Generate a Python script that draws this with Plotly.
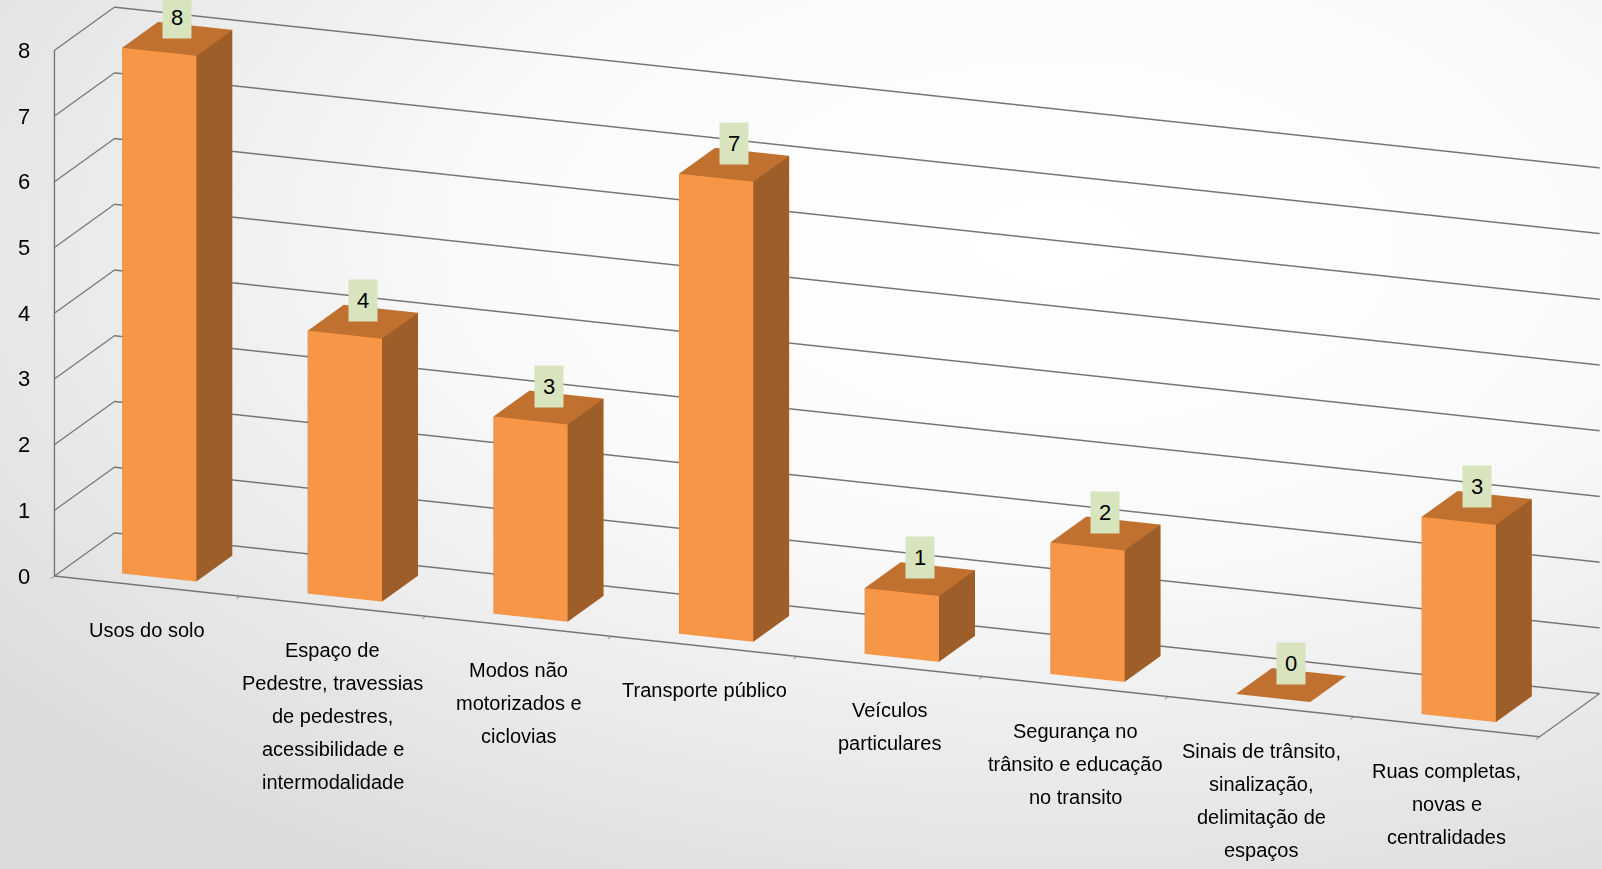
import base64
import plotly.graph_objects as go

# ---- data ----
categories = [
    "Usos do solo",
    "Espaço de<br>Pedestre, travessias<br>de pedestres,<br>acessibilidade e<br>intermodalidade",
    "Modos não<br>motorizados e<br>ciclovias",
    "Transporte público",
    "Veículos<br>particulares",
    "Segurança no<br>trânsito e educação<br>no transito",
    "Sinais de trânsito,<br>sinalização,<br>delimitação de<br>espaços",
    "Ruas completas,<br>novas e<br>centralidades",
]
values = [8, 4, 3, 7, 1, 2, 0, 3]
z_ticks = [0, 1, 2, 3, 4, 5, 6, 7, 8]

# ---- style ----
FRONT = "#F79646"
SIDE = "#9E5E29"
TOP = "#C0712F"
HALF_W = 0.2
Y0, Y1 = 0.2, 0.8
GRID = "#757575"

xs, ys, zs, ii, jj, kk, fc = [], [], [], [], [], [], []
for idx, v in enumerate(values):
    x0, x1 = idx - HALF_W, idx + HALF_W
    base = len(xs)
    pts = [(x0, Y0, 0), (x1, Y0, 0), (x1, Y1, 0), (x0, Y1, 0),
           (x0, Y0, v), (x1, Y0, v), (x1, Y1, v), (x0, Y1, v)]
    for p in pts:
        xs.append(p[0]); ys.append(p[1]); zs.append(p[2])
    faces = [
        ((0, 1, 5), FRONT), ((0, 5, 4), FRONT),
        ((1, 2, 6), SIDE), ((1, 6, 5), SIDE),
        ((4, 5, 6), TOP), ((4, 6, 7), TOP),
        ((0, 3, 7), SIDE), ((0, 7, 4), SIDE),
        ((3, 2, 6), FRONT), ((3, 6, 7), FRONT),
        ((0, 1, 2), TOP), ((0, 2, 3), TOP),
    ]
    for (a, b, c), col in faces:
        ii.append(base + a); jj.append(base + b); kk.append(base + c); fc.append(col)

mesh = go.Mesh3d(
    x=xs, y=ys, z=zs, i=ii, j=jj, k=kk, facecolor=fc,
    flatshading=True,
    lighting=dict(ambient=1.0, diffuse=0.0, specular=0.0, roughness=1.0, fresnel=0.0),
    hoverinfo="skip", showscale=False,
)

fig = go.Figure(mesh)

annotations = []
# value labels
for idx, v in enumerate(values):
    annotations.append(dict(
        x=idx, y=0.5, z=v, text=str(v), showarrow=False,
        bgcolor="#D7E4BD", borderpad=8, yanchor="bottom", yshift=0,
        font=dict(size=22, color="black", family="Liberation Sans, Arial"),
    ))
# category labels (one annotation per text line for Excel-like line spacing)
for idx, lab in enumerate(categories):
    for j, line in enumerate(lab.split("<br>")):
        annotations.append(dict(
            x=idx, y=0.0, z=0, text=line, showarrow=False,
            yanchor="middle", yshift=-(44 + 33 * j),
            font=dict(size=20, color="black", family="Liberation Sans, Arial"),
        ))
# value-axis labels
for t in z_ticks:
    annotations.append(dict(
        x=-0.5, y=0.0, z=t, text=str(t), showarrow=False,
        xanchor="right", yanchor="middle", xshift=-22,
        font=dict(size=22, color="black", family="Liberation Sans, Arial"),
    ))

axis_common = dict(showbackground=False, showspikes=False, title=dict(text=""),
                   linecolor=GRID, linewidth=3)

svg = ("<svg xmlns='http://www.w3.org/2000/svg' width='1602' height='869'>"
       "<defs><radialGradient id='g' cx='0.66' cy='0.28' r='0.85'>"
       "<stop offset='0' stop-color='#ffffff'/><stop offset='0.42' stop-color='#fafafa'/>"
       "<stop offset='1' stop-color='#dbdbdb'/></radialGradient></defs>"
       "<rect width='100%' height='100%' fill='url(#g)'/></svg>")
bg_src = "data:image/svg+xml;base64," + base64.b64encode(svg.encode()).decode()

fig.update_layout(
    width=1602, height=869,
    margin=dict(l=0, r=0, t=0, b=0),
    paper_bgcolor="white",
    showlegend=False,
    images=[dict(source=bg_src, xref="paper", yref="paper", x=0, y=1,
                 sizex=1, sizey=1, sizing="stretch", layer="below")],
    scene=dict(
        domain=dict(x=[0, 1], y=[0, 1]),
        bgcolor="rgba(0,0,0,0)",
        aspectmode="manual",
        aspectratio=dict(x=3.666, y=0.382, z=1.26),
        camera=dict(
            projection=dict(type="orthographic"),
            up=dict(x=0, y=0, z=1),
            center=dict(x=-0.0413, y=-0.0591, z=-0.1382),
            eye=dict(x=1.0003, y=-2.745, z=0.6988),
        ),
        xaxis=dict(axis_common, range=[-0.5, len(values) - 0.5], showgrid=False,
                   showticklabels=False, ticks="outside", ticklen=10, tickwidth=2,
                   tickcolor=GRID,
                   tickvals=[k - 0.5 for k in range(len(values) + 1)], zeroline=False),
        yaxis=dict(axis_common, range=[0, 1], showgrid=False, showticklabels=False,
                   ticks="", zeroline=False),
        zaxis=dict(axis_common, range=[0, 8], tickvals=z_ticks, showgrid=True,
                   gridcolor=GRID, gridwidth=3, ticks="", showticklabels=False,
                   zeroline=False),
        annotations=annotations,
    ),
)

fig.write_html("out.html",
               config={"displayModeBar": False},
               post_script="document.body.style.margin='0px';"
                           "document.documentElement.style.overflow='hidden';")
